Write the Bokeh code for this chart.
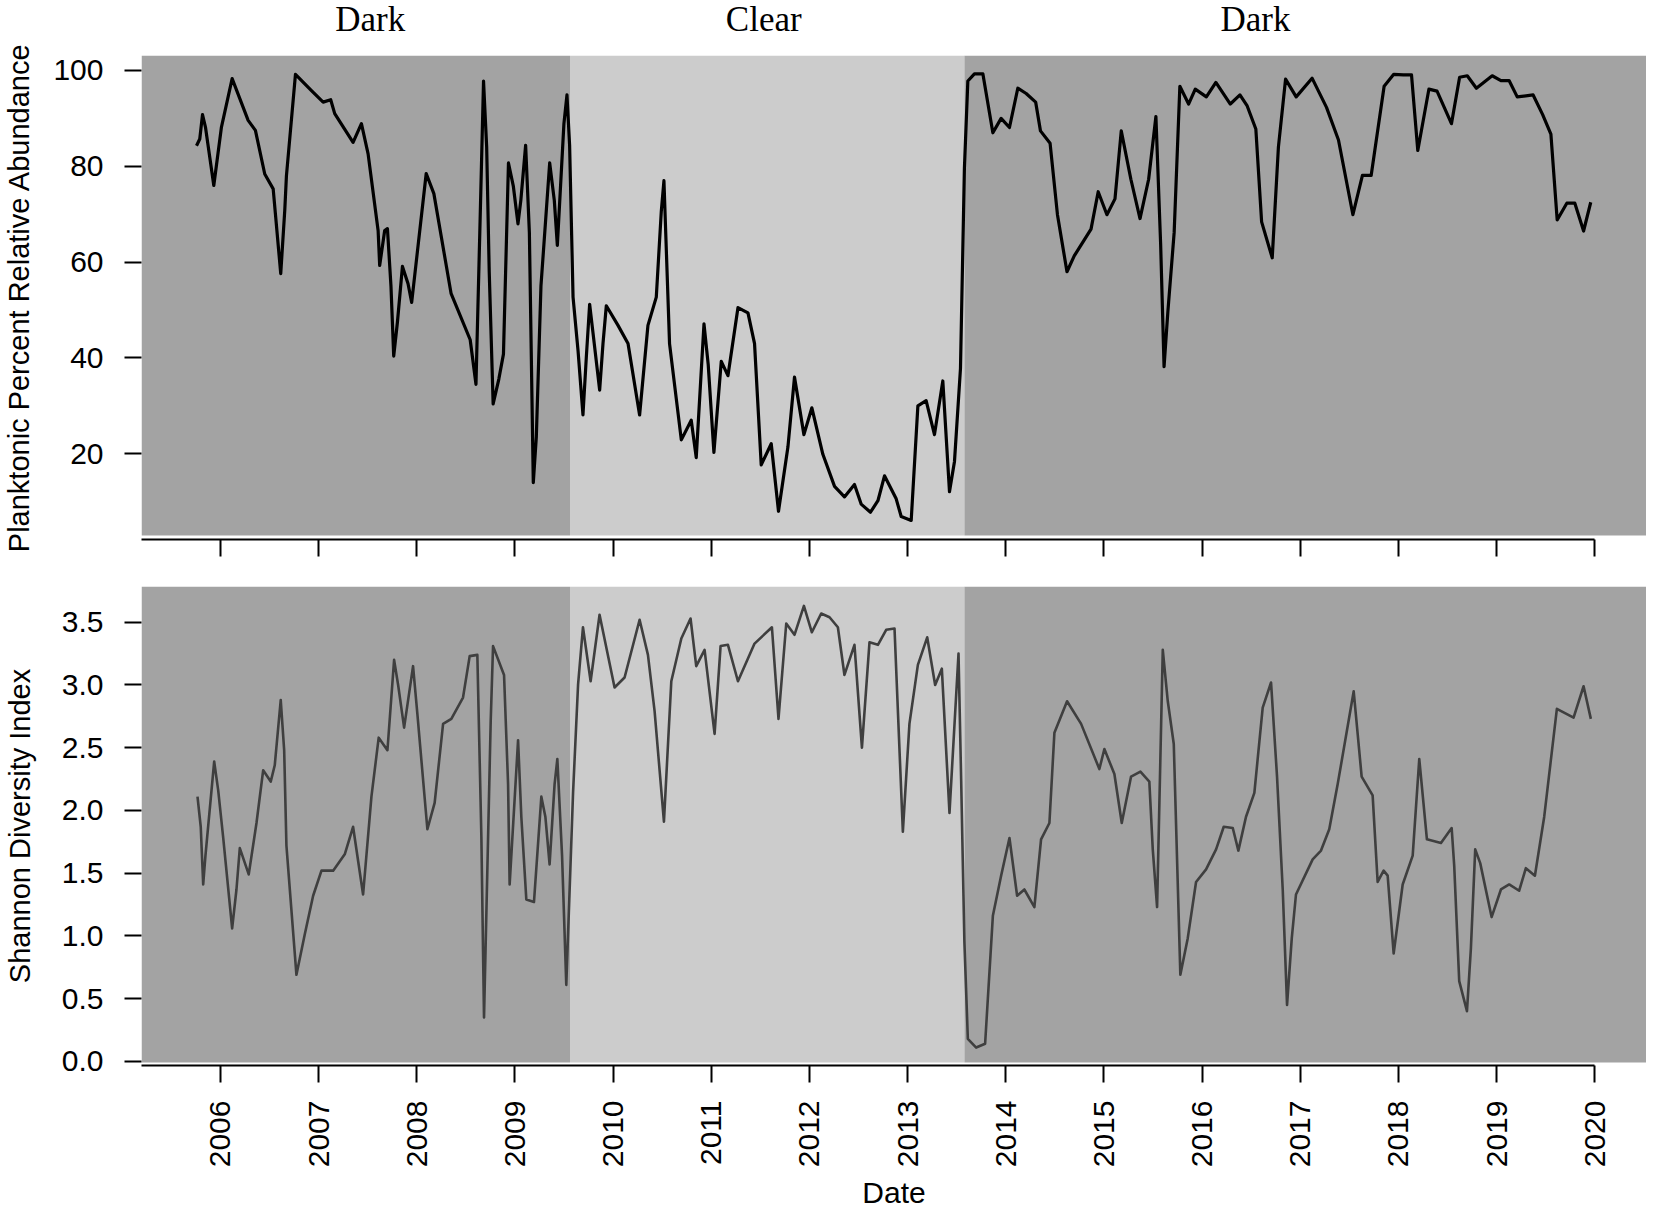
from math import pi
from bokeh.plotting import figure
from bokeh.layouts import column
from bokeh.models import Range1d, FixedTicker, NumeralTickFormatter, CustomJSTickFormatter
from bokeh.core.properties import value
from bokeh.embed import file_html
from bokeh.resources import INLINE

# ---------------- data ----------------
period_names = ["Dark", "Clear", "Dark"]
period_bounds = [2005.1955, 2009.561, 2013.579, 2020.528]
period_label_x = [2007.525, 2011.535, 2016.545]
period_colors = ["#a3a3a3", "#cccccc", "#a3a3a3"]

year_ticks = list(range(2006, 2021))
pct_ticks = [20, 40, 60, 80, 100]
shan_ticks = [0.0, 0.5, 1.0, 1.5, 2.0, 2.5, 3.0, 3.5]

plank_year = [
    2005.756, 2005.789, 2005.817, 2005.847, 2005.932, 2006.010, 2006.119, 2006.282, 2006.356, 2006.451,
    2006.537, 2006.560, 2006.614, 2006.655, 2006.672, 2006.764, 2006.927, 2007.046, 2007.123, 2007.164,
    2007.351, 2007.436, 2007.504, 2007.606, 2007.622, 2007.673, 2007.701, 2007.737, 2007.765, 2007.803,
    2007.854, 2007.911, 2007.948, 2008.096, 2008.174, 2008.349, 2008.544, 2008.603, 2008.642, 2008.680,
    2008.712, 2008.738, 2008.778, 2008.836, 2008.883, 2008.934, 2008.984, 2009.031, 2009.060, 2009.109,
    2009.147, 2009.187, 2009.218, 2009.265, 2009.354, 2009.401, 2009.432, 2009.499, 2009.530, 2009.557,
    2009.592, 2009.643, 2009.693, 2009.727, 2009.761, 2009.795, 2009.863, 2009.897, 2009.931, 2010.050,
    2010.152, 2010.270, 2010.355, 2010.440, 2010.491, 2010.518, 2010.575, 2010.695, 2010.796, 2010.847,
    2010.926, 2010.969, 2011.027, 2011.102, 2011.170, 2011.272, 2011.374, 2011.441, 2011.509, 2011.611,
    2011.685, 2011.781, 2011.848, 2011.944, 2012.025, 2012.137, 2012.256, 2012.357, 2012.459, 2012.527,
    2012.622, 2012.698, 2012.765, 2012.884, 2012.935, 2013.037, 2013.105, 2013.189, 2013.274, 2013.359,
    2013.427, 2013.478, 2013.539, 2013.579, 2013.614, 2013.681, 2013.767, 2013.869, 2013.953, 2014.038,
    2014.123, 2014.208, 2014.305, 2014.354, 2014.452, 2014.527, 2014.624, 2014.698, 2014.869, 2014.942,
    2015.031, 2015.113, 2015.177, 2015.275, 2015.368, 2015.456, 2015.530, 2015.578, 2015.613, 2015.652,
    2015.716, 2015.774, 2015.863, 2015.931, 2016.044, 2016.141, 2016.288, 2016.386, 2016.460, 2016.548,
    2016.607, 2016.715, 2016.778, 2016.851, 2016.959, 2017.121, 2017.268, 2017.390, 2017.537, 2017.634,
    2017.723, 2017.855, 2017.953, 2018.051, 2018.134, 2018.198, 2018.311, 2018.394, 2018.541, 2018.624,
    2018.702, 2018.795, 2018.956, 2019.045, 2019.128, 2019.211, 2019.373, 2019.470, 2019.554, 2019.618,
    2019.716, 2019.798, 2019.887, 2019.960,
]
plank_pct = [
    84.3, 85.7, 90.8, 88.2, 76.0, 88.2, 98.3, 89.6, 87.5, 78.4,
    75.3, 70.0, 57.6, 70.8, 78.0, 99.2, 95.8, 93.4, 93.9, 91.0,
    85.0, 88.9, 82.6, 66.6, 59.3, 66.6, 67.0, 55.0, 40.4, 47.5,
    59.1, 55.5, 51.6, 78.5, 74.3, 53.5, 43.8, 34.5, 66.2, 97.8,
    84.0, 58.0, 30.4, 35.6, 40.8, 80.7, 75.8, 68.0, 72.9, 84.4,
    66.2, 14.0, 23.6, 55.0, 80.7, 72.9, 63.5, 88.9, 94.9, 84.4,
    52.7, 41.5, 28.1, 40.1, 51.2, 45.3, 33.3, 43.0, 50.9, 46.8,
    43.0, 28.1, 46.8, 52.7, 70.6, 77.0, 43.0, 22.9, 27.0, 19.2,
    47.1, 38.6, 20.3, 39.3, 36.3, 50.5, 49.4, 43.0, 17.7, 22.1,
    8.0, 21.4, 36.0, 24.0, 29.6, 19.9, 13.2, 11.0, 13.6, 9.5,
    7.8, 10.2, 15.4, 10.6, 6.9, 6.1, 30.0, 31.1, 24.0, 35.2,
    12.1, 18.4, 37.8, 79.6, 97.8, 99.3, 99.3, 87.0, 90.0, 88.1,
    96.3, 95.2, 93.4, 87.4, 84.8, 69.9, 58.0, 61.3, 66.9, 74.7,
    69.9, 73.2, 87.4, 77.3, 69.1, 77.3, 90.4, 63.9, 38.2, 49.7,
    66.2, 96.7, 93.0, 96.1, 94.5, 97.5, 93.0, 94.9, 92.6, 87.8,
    68.4, 60.9, 84.0, 98.2, 94.5, 98.4, 92.3, 85.5, 69.9, 78.1,
    78.1, 96.7, 99.2, 99.1, 99.1, 83.3, 96.1, 95.7, 88.9, 98.6,
    98.9, 96.3, 98.9, 97.9, 97.9, 94.5, 94.9, 90.8, 86.7, 68.8,
    72.3, 72.3, 66.5, 72.5,
]

shan_year = [
    2005.766, 2005.799, 2005.824, 2005.847, 2005.936, 2005.977, 2006.027, 2006.119, 2006.163, 2006.197,
    2006.288, 2006.367, 2006.435, 2006.512, 2006.553, 2006.614, 2006.649, 2006.672, 2006.774, 2006.858,
    2006.944, 2007.029, 2007.148, 2007.266, 2007.351, 2007.453, 2007.538, 2007.612, 2007.701, 2007.769,
    2007.810, 2007.871, 2007.962, 2008.006, 2008.108, 2008.182, 2008.268, 2008.352, 2008.471, 2008.539,
    2008.617, 2008.658, 2008.685, 2008.753, 2008.777, 2008.889, 2008.930, 2008.946, 2009.032, 2009.065,
    2009.116, 2009.194, 2009.269, 2009.310, 2009.353, 2009.404, 2009.432, 2009.480, 2009.523, 2009.592,
    2009.643, 2009.693, 2009.771, 2009.862, 2010.015, 2010.117, 2010.270, 2010.355, 2010.423, 2010.518,
    2010.593, 2010.695, 2010.789, 2010.847, 2010.932, 2011.034, 2011.095, 2011.170, 2011.272, 2011.441,
    2011.618, 2011.685, 2011.764, 2011.848, 2011.944, 2012.025, 2012.120, 2012.205, 2012.290, 2012.357,
    2012.459, 2012.535, 2012.612, 2012.698, 2012.782, 2012.867, 2012.952, 2013.019, 2013.105, 2013.200,
    2013.281, 2013.349, 2013.427, 2013.519, 2013.546, 2013.579, 2013.614, 2013.699, 2013.790, 2013.869,
    2013.953, 2014.038, 2014.116, 2014.190, 2014.292, 2014.360, 2014.445, 2014.496, 2014.625, 2014.768,
    2014.954, 2015.005, 2015.107, 2015.182, 2015.277, 2015.372, 2015.463, 2015.498, 2015.542, 2015.600,
    2015.651, 2015.712, 2015.779, 2015.854, 2015.939, 2016.041, 2016.143, 2016.221, 2016.313, 2016.370,
    2016.448, 2016.533, 2016.618, 2016.703, 2016.764, 2016.822, 2016.866, 2016.914, 2016.957, 2017.127,
    2017.212, 2017.296, 2017.382, 2017.545, 2017.626, 2017.738, 2017.789, 2017.850, 2017.891, 2017.952,
    2018.044, 2018.146, 2018.213, 2018.291, 2018.434, 2018.543, 2018.569, 2018.620, 2018.699, 2018.739,
    2018.783, 2018.834, 2018.950, 2019.045, 2019.129, 2019.231, 2019.299, 2019.391, 2019.486, 2019.615,
    2019.785, 2019.887, 2019.961,
]
shan_idx = [
    2.11, 1.87, 1.41, 1.64, 2.39, 2.16, 1.79, 1.06, 1.37, 1.70,
    1.49, 1.90, 2.32, 2.23, 2.36, 2.88, 2.48, 1.72, 0.69, 1.01,
    1.32, 1.52, 1.52, 1.65, 1.87, 1.33, 2.11, 2.58, 2.48, 3.20,
    3.00, 2.66, 3.15, 2.77, 1.85, 2.06, 2.69, 2.73, 2.90, 3.23,
    3.24, 1.79, 0.35, 2.71, 3.31, 3.08, 2.21, 1.41, 2.56, 1.95,
    1.29, 1.27, 2.11, 1.95, 1.57, 2.21, 2.41, 1.64, 0.61, 2.14,
    3.00, 3.46, 3.03, 3.56, 2.98, 3.06, 3.52, 3.24, 2.79, 1.91,
    3.03, 3.37, 3.53, 3.15, 3.28, 2.61, 3.31, 3.32, 3.03, 3.33,
    3.46, 2.73, 3.49, 3.40, 3.63, 3.42, 3.57, 3.54, 3.46, 3.08,
    3.32, 2.50, 3.34, 3.32, 3.44, 3.45, 1.83, 2.69, 3.16, 3.38,
    3.00, 3.13, 1.98, 3.25, 2.24, 0.95, 0.18, 0.11, 0.14, 1.16,
    1.48, 1.78, 1.32, 1.37, 1.23, 1.77, 1.90, 2.62, 2.87, 2.69,
    2.33, 2.49, 2.29, 1.90, 2.27, 2.31, 2.23, 1.69, 1.23, 3.28,
    2.87, 2.53, 0.69, 0.98, 1.43, 1.53, 1.69, 1.87, 1.86, 1.68,
    1.95, 2.14, 2.82, 3.02, 2.27, 1.37, 0.45, 0.98, 1.33, 1.61,
    1.68, 1.85, 2.21, 2.95, 2.27, 2.12, 1.43, 1.52, 1.48, 0.86,
    1.41, 1.64, 2.41, 1.77, 1.74, 1.86, 1.56, 0.64, 0.40, 0.90,
    1.69, 1.58, 1.15, 1.37, 1.41, 1.36, 1.54, 1.48, 1.95, 2.81,
    2.74, 2.99, 2.73,
]

# ---------------- layout constants ----------------
X0, X1 = period_bounds[0], period_bounds[-1]
TOP_Y = (2.11, 103.13)
TOP_GRAY_BOTTOM = 2.95
BOT_Y = (-0.033, 3.785)
BOT_GRAY_BOTTOM = -0.01
SANS = "Liberation Sans"
SERIF = "Liberation Serif"
FS = "30px"
TITLE_FS = "29px"
W = 1646
LEFT = 140
HDR_H = 40

# ---------------- header with period names ----------------
hdr = figure(width=W, height=HDR_H, x_range=Range1d(X0, X1), y_range=Range1d(0, HDR_H),
             x_axis_type=None, y_axis_type=None, output_backend="svg", toolbar_location=None,
             min_border_left=LEFT, min_border_right=0, min_border_top=0, min_border_bottom=0)
hdr.outline_line_color = None
hdr.grid.visible = False
hdr.text(x=period_label_x, y=[HDR_H - 18.5] * len(period_names), text=period_names,
         text_font=value(SERIF), text_font_size="35px", text_color="black",
         text_align="center", text_baseline="middle")


def make_fig(height, top, bottom, yr, gray_bottom, yticks):
    p = figure(width=W, height=height, x_range=hdr.x_range, y_range=Range1d(*yr),
               output_backend="svg", toolbar_location=None,
               min_border_left=LEFT, min_border_right=0,
               min_border_top=top, min_border_bottom=bottom)
    p.outline_line_color = None
    p.grid.visible = False
    p.background_fill_color = "white"
    p.border_fill_color = "white"
    p.quad(left=period_bounds[:-1], right=period_bounds[1:], bottom=gray_bottom, top=yr[1],
           fill_color=period_colors, line_color=None)
    xa = p.xaxis[0]
    xa.ticker = FixedTicker(ticks=year_ticks)
    xa.bounds = (X0, year_ticks[-1])
    xa.axis_line_width = 2.2
    xa.axis_line_color = "black"
    xa.major_tick_line_width = 2
    xa.major_tick_line_color = "black"
    xa.major_tick_out = 17
    xa.major_tick_in = 0
    xa.minor_tick_line_color = None
    ya = p.yaxis[0]
    ya.ticker = FixedTicker(ticks=yticks)
    ya.axis_line_color = None
    ya.major_tick_line_width = 2
    ya.major_tick_line_color = "black"
    ya.major_tick_out = 17
    ya.major_tick_in = 0
    ya.minor_tick_line_color = None
    ya.major_label_standoff = 21
    ya.major_label_text_font = SANS
    ya.major_label_text_font_size = FS
    ya.major_label_text_color = "black"
    ya.axis_label_text_font = SANS
    ya.axis_label_text_font_size = TITLE_FS
    ya.axis_label_text_font_style = "normal"
    ya.axis_label_text_color = "black"
    return p


# ---------------- top panel ----------------
p1 = make_fig(529, 15, 30, TOP_Y, TOP_GRAY_BOTTOM, pct_ticks)
p1.xaxis[0].formatter = CustomJSTickFormatter(code="return ''")
p1.xaxis[0].major_label_text_font_size = "1px"
p1.xaxis[0].major_label_standoff = 0
p1.yaxis[0].axis_label = "Planktonic Percent Relative Abundance"
p1.yaxis[0].axis_label_standoff = 15
p1.line(plank_year, plank_pct, line_color="black", line_width=3.2, line_join="round")

# ---------------- bottom panel ----------------
p2 = make_fig(643, 17, 142, BOT_Y, BOT_GRAY_BOTTOM, shan_ticks)
p2.yaxis[0].formatter = NumeralTickFormatter(format="0.0")
p2.yaxis[0].axis_label = "Shannon Diversity Index"
p2.yaxis[0].axis_label_standoff = 23
xa2 = p2.xaxis[0]
xa2.major_label_orientation = pi / 2
xa2.major_label_standoff = 18
xa2.major_label_text_font = SANS
xa2.major_label_text_font_size = FS
xa2.major_label_text_color = "black"
xa2.axis_label = "Date"
xa2.axis_label_standoff = 6
xa2.axis_label_text_font = SANS
xa2.axis_label_text_font_size = FS
xa2.axis_label_text_font_style = "normal"
xa2.axis_label_text_color = "black"
p2.line(shan_year, shan_idx, line_color="#3f3f3f", line_width=2.6, line_join="round")

layout = column(hdr, p1, p2, spacing=0)
open("out.html", "w").write(file_html(layout, INLINE))
